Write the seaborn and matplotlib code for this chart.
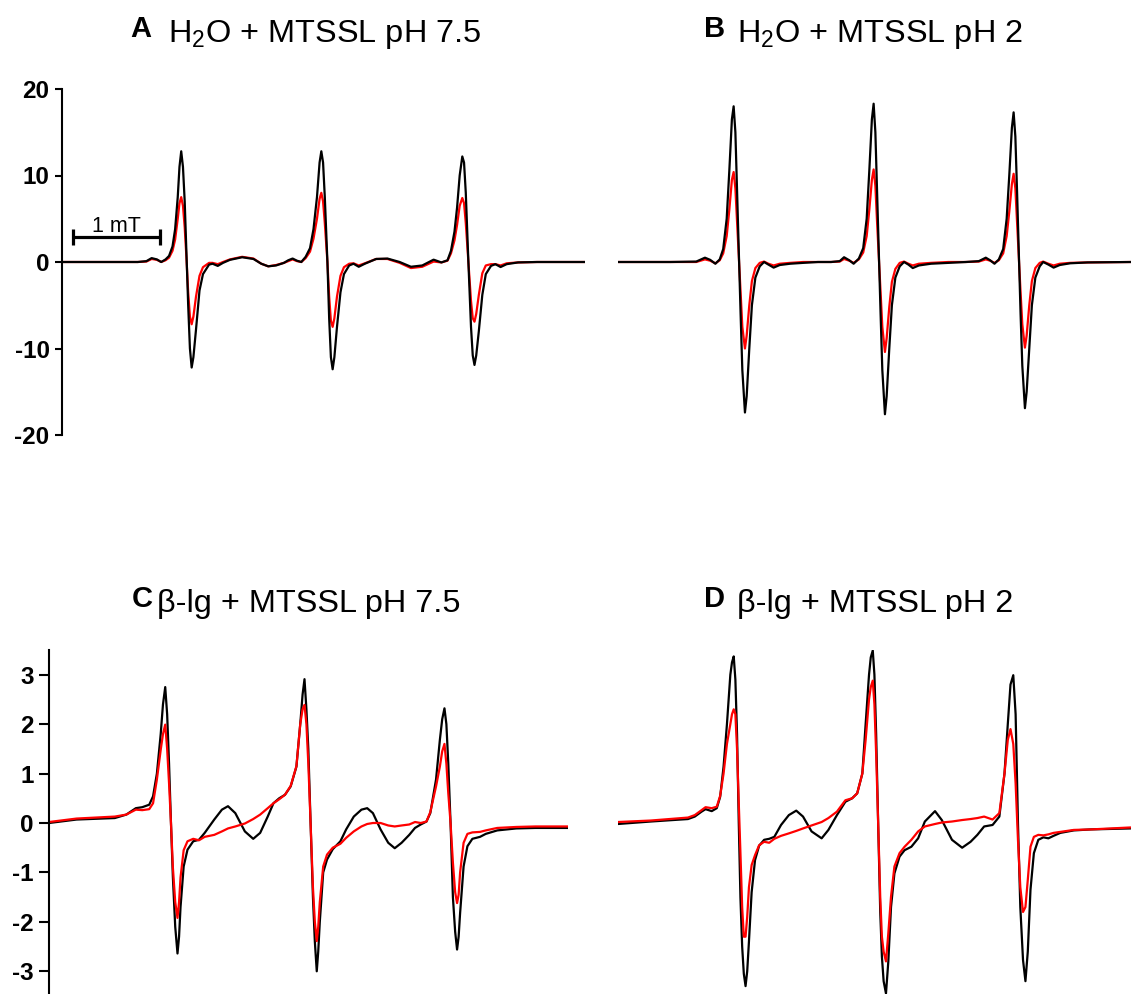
import matplotlib
matplotlib.use("Agg")
import matplotlib.pyplot as plt
import pandas as pd
import seaborn as sns

# ---------------- data (field offset in mT, EPR intensity in a.u.) ----------------
A_field = [0.00, 0.50, 0.87, 0.97, 1.03, 1.09, 1.14, 1.19, 1.23, 1.27,
           1.30, 1.33, 1.35, 1.37, 1.39, 1.41, 1.43, 1.45, 1.47, 1.49,
           1.51, 1.54, 1.58, 1.62, 1.69, 1.73, 1.79, 1.85, 1.93, 2.07,
           2.20, 2.29, 2.37, 2.46, 2.55, 2.60, 2.65, 2.70, 2.75, 2.80,
           2.85, 2.89, 2.93, 2.96, 2.98, 3.00, 3.02, 3.05, 3.07, 3.09,
           3.11, 3.13, 3.16, 3.20, 3.24, 3.30, 3.35, 3.41, 3.48, 3.61,
           3.74, 3.88, 4.01, 4.14, 4.27, 4.36, 4.43, 4.47, 4.51, 4.54,
           4.57, 4.60, 4.62, 4.64, 4.67, 4.70, 4.72, 4.74, 4.76, 4.79,
           4.83, 4.87, 4.93, 4.98, 5.04, 5.11, 5.24, 5.46, 6.01]
A_black = [0, 0, 0, 0.1, 0.45, 0.3, 0.0, 0.3, 0.7, 1.8,
           3.8, 7.5, 11.0, 12.8, 11.0, 7.0, 1.0, -5.0, -10.0, -12.2,
           -11.0, -7.8, -3.3, -1.4, -0.3, -0.2, -0.45, -0.1, 0.25, 0.55,
           0.35, -0.2, -0.5, -0.4, -0.1, 0.2, 0.4, 0.15, 0.0, 0.6,
           1.6, 3.8, 7.5, 11.5, 12.8, 11.5, 7.5, 0.0, -6.5, -11.0,
           -12.4, -11.0, -7.5, -3.5, -1.4, -0.4, -0.2, -0.55, -0.2, 0.35,
           0.4, 0.0, -0.55, -0.4, 0.27, -0.05, 0.2, 1.3, 3.5, 6.3,
           10.0, 12.2, 11.5, 8.0, 0.0, -7.5, -10.8, -11.9, -10.8, -8.0,
           -3.8, -1.4, -0.45, -0.25, -0.58, -0.25, -0.05, 0.0, 0.0]
A_red = [0, 0, 0, 0.05, 0.35, 0.25, 0.0, 0.2, 0.5, 1.3,
         2.6, 5.0, 6.8, 7.5, 6.5, 4.0, 0.5, -3.5, -6.3, -7.2,
         -6.3, -4.0, -1.6, -0.6, -0.1, -0.1, -0.25, 0.0, 0.3, 0.6,
         0.4, -0.2, -0.5, -0.35, -0.1, 0.1, 0.3, 0.1, 0.0, 0.45,
         1.2, 2.7, 5.0, 7.3, 8.0, 7.0, 4.5, 0.0, -4.0, -6.8,
         -7.5, -6.5, -4.0, -1.6, -0.6, -0.2, -0.15, -0.4, -0.15, 0.35,
         0.35, -0.1, -0.7, -0.55, 0.05, -0.05, 0.15, 1.0, 2.5, 4.3,
         6.5, 7.4, 6.8, 4.5, 0.0, -4.5, -6.5, -6.9, -6.0, -3.8,
         -1.3, -0.4, -0.25, -0.25, -0.4, -0.15, -0.05, 0.0, 0.0]

B_field = [0.00, 0.60, 0.90, 1.00, 1.06, 1.12, 1.17, 1.21, 1.25, 1.28,
           1.31, 1.33, 1.35, 1.37, 1.39, 1.41, 1.43, 1.46, 1.48, 1.51,
           1.54, 1.58, 1.63, 1.68, 1.73, 1.79, 1.86, 1.98, 2.13, 2.30,
           2.45, 2.55, 2.60, 2.66, 2.71, 2.77, 2.82, 2.86, 2.89, 2.92,
           2.94, 2.96, 2.98, 3.00, 3.02, 3.04, 3.07, 3.09, 3.12, 3.15,
           3.19, 3.24, 3.29, 3.34, 3.39, 3.46, 3.60, 3.80, 4.00, 4.15,
           4.23, 4.28, 4.33, 4.38, 4.43, 4.47, 4.50, 4.53, 4.55, 4.57,
           4.59, 4.61, 4.63, 4.65, 4.68, 4.70, 4.73, 4.76, 4.80, 4.85,
           4.89, 4.95, 5.01, 5.08, 5.20, 5.40, 5.90]
B_black = [0, 0, 0.05, 0.5, 0.25, -0.2, 0.3, 1.5, 5.0, 10.5,
           16.5, 18.0, 15.0, 8.0, 1.0, -6.0, -12.5, -17.4, -15.5, -10.0,
           -5.0, -1.8, -0.5, 0.0, -0.3, -0.65, -0.35, -0.2, -0.1, 0.0,
           0.0, 0.1, 0.55, 0.2, -0.2, 0.4, 1.6, 5.0, 10.5, 16.5,
           18.3, 15.0, 8.0, 1.0, -6.0, -12.5, -17.6, -15.5, -10.0, -5.0,
           -1.8, -0.5, 0.0, -0.3, -0.7, -0.4, -0.2, -0.1, 0.0, 0.1,
           0.5, 0.2, -0.2, 0.3, 1.5, 5.0, 10.0, 15.5, 17.3, 14.5,
           8.0, 1.0, -6.0, -12.0, -16.9, -15.0, -10.0, -5.0, -1.8, -0.5,
           0.0, -0.3, -0.65, -0.35, -0.15, -0.05, 0.0]
B_red = [0, 0, 0.0, 0.3, 0.15, -0.15, 0.2, 1.0, 3.0, 6.0,
         9.5, 10.4, 8.5, 4.5, 0.5, -3.5, -7.5, -10.0, -8.5, -5.0,
         -2.2, -0.7, -0.1, 0.05, -0.2, -0.4, -0.2, -0.1, 0.0, 0.0,
         0.0, 0.05, 0.35, 0.15, -0.1, 0.3, 1.1, 3.0, 6.0, 9.5,
         10.7, 8.8, 4.5, 0.5, -3.5, -7.5, -10.4, -8.8, -5.2, -2.3,
         -0.8, -0.1, 0.05, -0.2, -0.4, -0.2, -0.1, 0.0, 0.0, 0.05,
         0.3, 0.15, -0.1, 0.2, 1.0, 3.0, 5.8, 9.0, 10.2, 8.5,
         4.5, 0.5, -3.5, -7.2, -9.9, -8.5, -5.0, -2.2, -0.7, -0.1,
         0.05, -0.2, -0.4, -0.2, -0.1, -0.05, 0.0]

C_field = [0.000, 0.317, 0.757, 0.889, 0.999, 1.073, 1.153, 1.197, 1.241, 1.285,
           1.311, 1.337, 1.359, 1.381, 1.403, 1.425, 1.452, 1.478, 1.496, 1.513,
           1.549, 1.593, 1.659, 1.725, 1.791, 1.901, 1.989, 2.059, 2.143, 2.253,
           2.349, 2.429, 2.516, 2.582, 2.648, 2.714, 2.780, 2.846, 2.890, 2.917,
           2.939, 2.961, 2.983, 3.009, 3.036, 3.058, 3.080, 3.097, 3.115, 3.154,
           3.198, 3.264, 3.352, 3.418, 3.506, 3.594, 3.660, 3.726, 3.814, 3.902,
           3.977, 4.056, 4.144, 4.210, 4.276, 4.342, 4.386, 4.452, 4.496, 4.523,
           4.549, 4.571, 4.593, 4.619, 4.646, 4.672, 4.694, 4.712, 4.729, 4.769,
           4.813, 4.870, 4.958, 5.024, 5.156, 5.376, 5.596, 5.970]
C_black = [0.00, 0.07, 0.10, 0.17, 0.30, 0.32, 0.37, 0.54, 1.00, 1.80,
           2.40, 2.75, 2.20, 1.20, 0.00, -1.10, -2.10, -2.64, -2.30, -1.70,
           -0.88, -0.54, -0.37, -0.34, -0.20, 0.07, 0.27, 0.34, 0.20, -0.17,
           -0.32, -0.20, 0.13, 0.40, 0.50, 0.57, 0.74, 1.14, 2.00, 2.60,
           2.91, 2.30, 1.50, 0.00, -1.50, -2.40, -3.00, -2.60, -2.00, -1.00,
           -0.74, -0.53, -0.37, -0.13, 0.13, 0.27, 0.30, 0.20, -0.13, -0.40,
           -0.51, -0.40, -0.24, -0.10, -0.03, 0.03, 0.20, 0.88, 1.68, 2.10,
           2.32, 2.00, 1.20, 0.00, -1.50, -2.20, -2.56, -2.30, -1.82, -0.88,
           -0.47, -0.32, -0.28, -0.22, -0.15, -0.11, -0.10, -0.10]
C_red = [0.02, 0.09, 0.13, 0.17, 0.27, 0.26, 0.28, 0.40, 0.88, 1.48,
         1.80, 1.99, 1.50, 0.80, 0.00, -0.90, -1.60, -1.92, -1.60, -1.10,
         -0.55, -0.37, -0.32, -0.35, -0.28, -0.24, -0.17, -0.11, -0.07, -0.01,
         0.08, 0.17, 0.30, 0.40, 0.48, 0.57, 0.75, 1.15, 2.00, 2.30,
         2.39, 2.00, 1.20, 0.00, -1.30, -2.00, -2.39, -2.10, -1.60, -0.88,
         -0.64, -0.50, -0.42, -0.30, -0.17, -0.07, -0.02, 0.00, 0.00, -0.05,
         -0.07, -0.05, -0.03, 0.02, 0.00, 0.03, 0.22, 0.74, 1.14, 1.45,
         1.60, 1.20, 0.60, 0.00, -0.80, -1.40, -1.62, -1.45, -1.00, -0.40,
         -0.22, -0.19, -0.18, -0.15, -0.10, -0.08, -0.07, -0.07]

D_field = [0.000, 0.377, 0.805, 0.883, 0.961, 1.007, 1.078, 1.136, 1.175, 1.214,
           1.253, 1.292, 1.311, 1.331, 1.350, 1.369, 1.389, 1.408, 1.428, 1.447,
           1.467, 1.486, 1.506, 1.537, 1.576, 1.623, 1.681, 1.739, 1.798, 1.875,
           1.965, 2.050, 2.128, 2.226, 2.342, 2.420, 2.518, 2.615, 2.693, 2.751,
           2.810, 2.848, 2.887, 2.907, 2.930, 2.949, 2.969, 2.992, 3.016, 3.035,
           3.055, 3.082, 3.109, 3.140, 3.179, 3.238, 3.296, 3.374, 3.452, 3.529,
           3.646, 3.724, 3.841, 3.958, 4.055, 4.133, 4.211, 4.308, 4.386, 4.445,
           4.483, 4.514, 4.546, 4.573, 4.600, 4.627, 4.658, 4.686, 4.713, 4.744,
           4.783, 4.834, 4.892, 4.950, 5.009, 5.087, 5.242, 5.437, 5.897]
D_black = [-0.02, 0.03, 0.08, 0.13, 0.23, 0.28, 0.24, 0.30, 0.53, 1.14,
           2.00, 3.00, 3.25, 3.37, 2.90, 1.80, 0.00, -1.50, -2.50, -3.05,
           -3.30, -3.00, -2.40, -1.40, -0.75, -0.46, -0.34, -0.32, -0.28, -0.04,
           0.16, 0.25, 0.13, -0.17, -0.31, -0.14, 0.16, 0.43, 0.50, 0.60,
           1.00, 2.00, 3.00, 3.35, 3.49, 3.00, 1.80, 0.00, -1.80, -2.70,
           -3.20, -3.45, -2.80, -1.70, -1.02, -0.68, -0.55, -0.48, -0.31, 0.03,
           0.24, 0.06, -0.34, -0.50, -0.38, -0.24, -0.07, -0.04, 0.13, 1.00,
           2.00, 2.80, 2.99, 2.20, 0.00, -1.70, -2.77, -3.20, -2.60, -1.35,
           -0.61, -0.34, -0.29, -0.31, -0.26, -0.20, -0.15, -0.13, -0.11]
D_red = [0.02, 0.05, 0.11, 0.16, 0.26, 0.32, 0.30, 0.33, 0.55, 1.00,
         1.60, 2.00, 2.20, 2.30, 2.20, 1.50, 0.40, -0.60, -1.70, -2.30,
         -2.30, -1.90, -1.30, -0.85, -0.65, -0.45, -0.38, -0.40, -0.32, -0.26,
         -0.21, -0.16, -0.11, -0.05, 0.02, 0.10, 0.23, 0.46, 0.50, 0.60,
         1.00, 1.68, 2.50, 2.75, 2.88, 2.40, 1.40, 0.00, -1.50, -2.30,
         -2.60, -2.80, -2.23, -1.49, -0.88, -0.61, -0.48, -0.34, -0.17, -0.07,
         -0.02, 0.01, 0.03, 0.06, 0.08, 0.10, 0.13, 0.07, 0.20, 1.00,
         1.68, 1.90, 1.60, 0.80, -0.34, -1.30, -1.80, -1.70, -1.15, -0.48,
         -0.28, -0.24, -0.25, -0.23, -0.20, -0.18, -0.14, -0.13, -0.09]

panel_letters = ["A", "B", "C", "D"]
panel_titles = ["H$_\\mathregular{2}$O + MTSSL pH 7.5", "H$_\\mathregular{2}$O + MTSSL pH 2",
                "\u03b2-lg + MTSSL pH 7.5", "\u03b2-lg + MTSSL pH 2"]
ticks_top = [-20, -10, 0, 10, 20]
ticks_bottom = [-3, -2, -1, 0, 1, 2, 3]
scale_bar_label = "1 mT"

# ---------------- style ----------------
sns.set_theme(style="white")
plt.rcParams["font.family"] = ["Liberation Sans", "DejaVu Sans"]
plt.rcParams["mathtext.fontset"] = "custom"
plt.rcParams["mathtext.rm"] = "Liberation Sans"
plt.rcParams["mathtext.it"] = "Liberation Sans:italic"
plt.rcParams["mathtext.bf"] = "Liberation Sans:bold"
plt.rcParams["axes.unicode_minus"] = False

W, H = 1131, 994
fig = plt.figure(figsize=(W / 100, H / 100), dpi=100)


def px_axes(left, top, right, bottom):
    return fig.add_axes([left / W, 1 - bottom / H, (right - left) / W, (bottom - top) / H])


def draw(ax, field, black, red, red_on_top):
    df = pd.DataFrame({"field": field * 2, "y": black + red,
                       "trace": ["black"] * len(field) + ["red"] * len(field)})
    order = ["black", "red"] if red_on_top else ["red", "black"]
    for t in order:
        sub = df[df["trace"] == t]
        sns.lineplot(data=sub, x="field", y="y", ax=ax, color=t, linewidth=1.6,
                     estimator=None, sort=False, legend=False)
    ax.set_xlabel("")
    ax.set_ylabel("")
    ax.set_xticks([])
    for s in ["top", "right", "bottom"]:
        ax.spines[s].set_visible(False)
    ax.set_facecolor("none")


axA = px_axes(62, 89, 585, 435)
axB = px_axes(618, 89, 1131, 435)
axC = px_axes(49, 650, 568, 996)
axD = px_axes(618, 650, 1131, 996)

draw(axA, A_field, A_black, A_red, False)
draw(axB, B_field, B_black, B_red, False)
draw(axC, C_field, C_black, C_red, True)
draw(axD, D_field, D_black, D_red, True)

axA.set_xlim(0, 6.01)
axB.set_xlim(0, 5.90)
axC.set_xlim(0, 5.97)
axD.set_xlim(0, 5.90)
for ax in (axA, axB):
    ax.set_ylim(-20, 20)
for ax in (axC, axD):
    ax.set_ylim(-3.5, 3.5)

for ax, ticks, tl in ((axA, ticks_top, 5), (axC, ticks_bottom, 7)):
    ax.set_yticks(ticks)
    ax.set_yticklabels([str(t) for t in ticks], fontsize=17.5, fontweight="bold")
    ax.spines["left"].set_linewidth(1.5)
    ax.spines["left"].set_color("black")
    ax.tick_params(axis="y", left=True, direction="out", length=tl, width=1.5,
                   pad=4, colors="black")

for ax in (axB, axD):
    ax.spines["left"].set_visible(False)
    ax.set_yticks([])

# scale bar in panel A (1 mT)
bar_x0, bar_y = 0.13, 2.9
axA.plot([bar_x0, bar_x0 + 1.0], [bar_y, bar_y], color="black", lw=2.3,
         solid_capstyle="butt")
axA.plot([bar_x0, bar_x0 + 1.0], [bar_y, bar_y], ls="none", marker="|",
         markersize=11, markeredgewidth=2.3, color="black")
axA.text(bar_x0 + 0.5, bar_y + 0.6, scale_bar_label, ha="center", va="baseline",
         fontsize=15.5, color="black")

# panel titles
title_pos = [(130, 168, 42), (704, 737, 42), (132, 157, 612), (704, 737, 612)]
for letter, title, (lx, tx, base) in zip(panel_letters, panel_titles, title_pos):
    fig.text(lx / W, 1 - (base - 5) / H, letter, fontsize=21, fontweight="bold",
             ha="left", va="baseline", color="black")
    fig.text(tx / W, 1 - base / H, title, fontsize=23.4, ha="left",
             va="baseline", color="black")

fig.savefig("out.png", dpi=100)
